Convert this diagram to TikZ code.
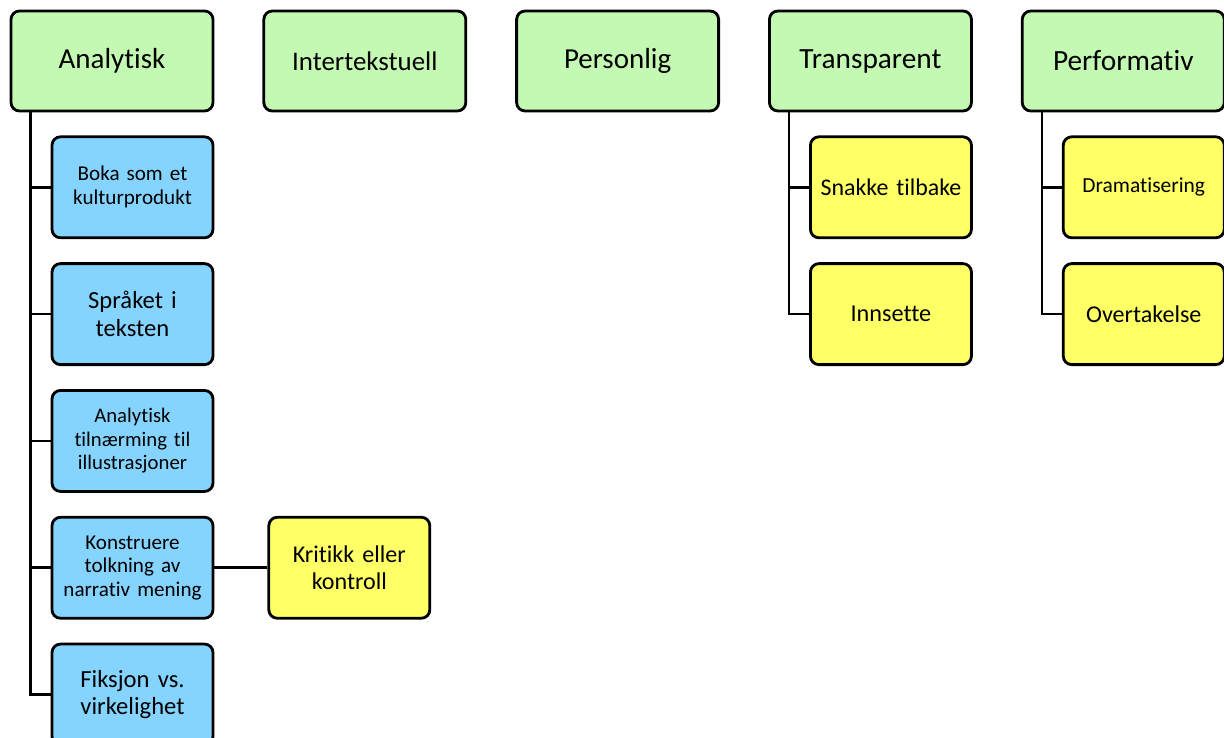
\documentclass[tikz,border=0pt]{standalone}
\usepackage{fontspec}
\setmainfont{Carlito}[Ligatures={NoCommon,NoContextual}, WordSpace=0.85]
\usetikzlibrary{positioning}

\definecolor{topgreen}{RGB}{196,249,180}
\definecolor{subblue}{RGB}{133,212,255}
\definecolor{leafyellow}{RGB}{255,255,102}

\tikzset{
  box/.style={rectangle, draw=black, line width=1.6pt, rounded corners=0.17cm, align=center, inner sep=2pt},
  top node/.style={box, fill=topgreen, minimum width=4.04cm, minimum height=2cm, text width=3.8cm},
  sub node/.style={box, fill=subblue, minimum width=3.22cm, minimum height=2.02cm, text width=3.0cm},
  leaf node/.style={box, fill=leafyellow, minimum width=3.22cm, minimum height=2.02cm, text width=3.0cm},
  link/.style={draw=black, line width=1.5pt}
}

\begin{document}
\begin{tikzpicture}[node distance=0.96cm]
            \useasboundingbox (0,0) rectangle (24.48,-14.76);

            % top row
            \node[top node, font=\fontsize{16.5}{18.5}\selectfont] (ana) at (2.24,-1.22) {Analytisk};
            \node[top node, font=\fontsize{15.3}{17}\selectfont] (inter) [right=of ana] {Intertekstuell};
            \node[top node, font=\fontsize{16.5}{18.5}\selectfont] (pers) [right=of inter] {Personlig};
            \node[top node, font=\fontsize{16.7}{18.5}\selectfont] (trans) [right=of pers] {Transparent};
            \node[top node, font=\fontsize{16.7}{18.5}\selectfont] (perf) [right=of trans] {Performativ};

            % under Analytisk
            \node[sub node, font=\fontsize{12}{13.6}\selectfont] (boka) [below right=0.46cm and 0.82cm of ana.south west] {Boka som et\\kulturprodukt};
            \node[sub node, font=\fontsize{14}{15.8}\selectfont] (sprak) [below=0.46cm of boka] {Språket i\\teksten};
            \node[sub node, font=\fontsize{11.8}{13.4}\selectfont] (illu) [below=0.46cm of sprak] {Analytisk\\tilnærming til\\illustrasjoner};
            \node[sub node, font=\fontsize{12}{13.4}\selectfont] (konst) [below=0.46cm of illu] {Konstruere\\tolkning av\\narrativ mening};
            \node[sub node, font=\fontsize{14}{15.8}\selectfont] (fiks) [below=0.46cm of konst] {Fiksjon vs.\\virkelighet};
            \node[leaf node, font=\fontsize{13.7}{15.5}\selectfont] (krit) [right=1.06cm of konst] {Kritikk eller\\kontroll};

            % under Transparent and Performativ
            \node[leaf node, font=\fontsize{13.6}{15.5}\selectfont] (snak) [below right=0.46cm and 0.82cm of trans.south west] {Snakke tilbake};
            \node[leaf node, font=\fontsize{13.8}{15.5}\selectfont] (inns) [below=0.46cm of snak] {Innsette};
            \node[leaf node, font=\fontsize{12.2}{14}\selectfont] (drama) [below right=0.46cm and 0.82cm of perf.south west] {Dramatisering};
            \node[leaf node, font=\fontsize{13.7}{15.5}\selectfont] (over) [below=0.46cm of drama] {Overtakelse};

            \coordinate (anastem) at ([xshift=0.42cm]ana.south west);
            \coordinate (transstem) at ([xshift=0.42cm]trans.south west);
            \coordinate (perfstem) at ([xshift=0.42cm]perf.south west);

            \path[link]
                (anastem) |- (boka.west)
                (anastem) |- (sprak.west)
                (anastem) |- (illu.west)
                (anastem) |- (konst.west)
                (anastem) |- (fiks.west)
                (konst) -- (krit)

                (transstem) |- (snak.west)
                (transstem) |- (inns.west)

                (perfstem) |- (drama.west)
                (perfstem) |- (over.west)
                ;
\end{tikzpicture}
\end{document}
